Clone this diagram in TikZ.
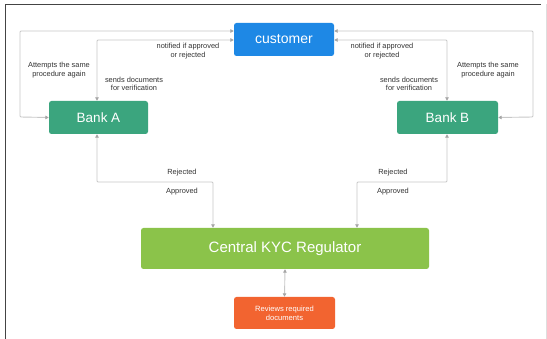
\documentclass[tikz,border=0pt]{standalone}
\usepackage{fontspec}
\setmainfont{Liberation Sans}
\usetikzlibrary{arrows.meta}
\definecolor{custblue}{HTML}{1E88E5}
\definecolor{bankgreen}{HTML}{3BA57E}
\definecolor{kycgreen}{HTML}{8BC34A}
\definecolor{revorange}{HTML}{F26430}
\definecolor{linegray}{HTML}{C8C8C8}
\definecolor{framegray}{HTML}{444444}
\definecolor{txtgray}{HTML}{333333}
\tikzset{
  box/.style={rounded corners=2.5pt, text=white, inner sep=0pt, anchor=center},
  conn/.style={draw=linegray, line width=0.9pt, {Triangle[length=3.5pt,width=3.5pt,fill=gray!70,color=gray!70]}-{Triangle[length=3.5pt,width=3.5pt,fill=gray!70,color=gray!70]}, rounded corners=1pt},
  lbl/.style={font=\fontsize{7.4}{8.6}\selectfont, text=txtgray, align=center, inner sep=0pt},
}
\begin{document}
\begin{tikzpicture}[x=1pt,y=-1pt]
\useasboundingbox (0,0) rectangle (547,339);
\fill[white] (0,0) rectangle (547,339);
% frame
\draw[framegray, line width=1.8pt] (5.5,339) -- (5.5,4.5) -- (541,4.5);
\draw[linegray!60, line width=0.6pt] (546,4.5) -- (546,339);
% nodes
\node[box, fill=custblue, minimum width=100pt, minimum height=33pt, font=\fontsize{14}{16}\selectfont] (cust) at (284,39.5) {customer};
\node[box, fill=bankgreen, minimum width=99pt, minimum height=33pt, font=\fontsize{13.5}{15}\selectfont] (bankA) at (98.5,117.5) {Bank A};
\node[box, fill=bankgreen, minimum width=101pt, minimum height=33pt, font=\fontsize{13.5}{15}\selectfont] (bankB) at (447.5,117.5) {Bank B};
\node[box, fill=kycgreen, minimum width=288pt, minimum height=41pt, font=\fontsize{15}{17}\selectfont] (kyc) at (285,248.5) {Central KYC Regulator};
\node[box, fill=revorange, minimum width=101pt, minimum height=32pt, font=\fontsize{7.6}{9}\selectfont, align=center] (rev) at (284.5,313) {Reviews required\\documents};
% coordinates
\coordinate (aL) at (20,117);
\coordinate (aT) at (20,31);
\coordinate (aI) at (97,40);
\coordinate (bR) at (533,117);
\coordinate (bT) at (533,31);
\coordinate (bI) at (447,40);
\coordinate (aD) at (97,182);
\coordinate (aK) at (213,182);
\coordinate (bD) at (447,182);
\coordinate (bK) at (357,182);
% connectors
\draw[conn] (bankA.west) -- (aL) -- (aT) -- (cust.west |- aT);
\draw[conn] (bankA.north -| aI) -- (aI) -- (cust.west |- aI);
\draw[conn] (bankB.east) -- (bR) -- (bT) -- (cust.east |- bT);
\draw[conn] (bankB.north -| bI) -- (bI) -- (cust.east |- bI);
\draw[conn] (bankA.south -| aD) -- (aD) -- (aK) -- (kyc.north -| aK);
\draw[conn] (bankB.south -| bD) -- (bD) -- (bK) -- (kyc.north -| bK);
\draw[conn] (kyc.south) -- (rev.north);
% labels
\node[lbl] (l1) at (188,51) {notified if approved\\or rejected};
\node[lbl] (l2) at (382,51) {notified if approved\\or rejected};
\node[lbl] (l3) at (134,84) {sends documents\\for verification};
\node[lbl] (l4) at (409,84) {sends documents\\for verification};
\node[lbl] (l5) at (59,70) {Attempts the same\\procedure again};
\node[lbl] (l6) at (488,70) {Attempts the same\\procedure again};
\node[lbl] (l7) at (182,173) {Rejected};
\node[lbl] (l8) at (182,192) {Approved};
\node[lbl] (l9) at (393,173) {Rejected};
\node[lbl] (l10) at (393,192) {Approved};
\end{tikzpicture}
\end{document}
